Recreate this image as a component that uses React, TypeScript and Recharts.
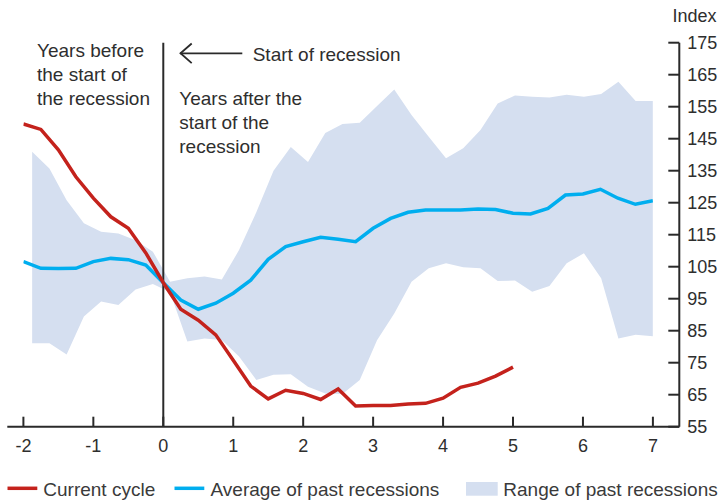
import React from 'react';
import { ComposedChart, Line, Area, XAxis, YAxis, ReferenceLine } from 'recharts';

// Quarterly grid (years relative to the start of the recession)
const quarterYears = [
  -2, -1.75, -1.5, -1.25, -1, -0.75, -0.5, -0.25, 0, 0.25, 0.5, 0.75, 1, 1.25, 1.5, 1.75, 2, 2.25, 2.5,
  2.75, 3, 3.25, 3.5, 3.75, 4, 4.25, 4.5, 4.75, 5, 5.25, 5.5, 5.75, 6, 6.25, 6.5, 6.75, 7,
];

// Current cycle: -2 .. 5
const currentCycle = [
  149.6, 147.9, 141.5, 133.1, 126.4, 120.6, 117.0, 109.3, 100.0, 91.7, 88.3, 83.7, 75.8, 67.7, 63.7,
  66.4, 65.4, 63.5, 66.8, 61.5, 61.6, 61.6, 62.1, 62.3, 63.9, 67.3, 68.6, 70.8, 73.6,
];

// Average of past recessions: -2 .. 7
const pastAverage = [
  106.6, 104.5, 104.4, 104.5, 106.6, 107.6, 107.2, 105.5, 100.0, 94.6, 91.7, 93.6, 96.7, 100.8, 107.3,
  111.3, 112.8, 114.2, 113.6, 112.8, 117.0, 120.1, 122.0, 122.7, 122.7, 122.7, 123.0, 122.9, 121.7,
  121.5, 123.2, 127.4, 127.7, 129.2, 126.4, 124.5, 125.6,
];

// Range of past recessions (drawn on its own x positions)
const rangeYears = [
  -1.875, -1.628, -1.382, -1.135, -0.889, -0.642, -0.396, -0.149, 0.097, 0.344, 0.59, 0.837, 1.083,
  1.33, 1.576, 1.823, 2.069, 2.316, 2.562, 2.809, 3.056, 3.302, 3.549, 3.795, 4.042, 4.288, 4.535,
  4.781, 5.028, 5.274, 5.521, 5.767, 6.014, 6.26, 6.507, 6.753, 7.0,
];
const rangeHigh = [
  140.9, 135.7, 125.8, 118.6, 115.9, 115.4, 113.3, 109.7, 100.3, 101.4, 101.9, 101.0, 110.2, 122.0,
  135.0, 142.4, 137.7, 146.8, 149.6, 150.0, 155.2, 160.4, 152.4, 145.6, 138.9, 142.0, 147.7, 156.0,
  158.5, 158.1, 157.9, 158.7, 158.1, 159.0, 162.8, 156.8, 156.8,
];
const rangeLow = [
  81.1, 81.1, 77.6, 89.4, 94.1, 93.0, 97.9, 99.6, 97.0, 81.6, 82.6, 82.1, 76.9, 69.6, 71.2, 71.4,
  67.5, 65.4, 65.2, 69.6, 82.0, 90.4, 100.3, 104.5, 106.1, 104.8, 104.5, 100.5, 100.7, 97.2, 99.0,
  106.1, 109.2, 101.4, 82.6, 83.7, 83.3,
];

const xTicks = [-2, -1, 0, 1, 2, 3, 4, 5, 6, 7];
const yTicks = [55, 65, 75, 85, 95, 105, 115, 125, 135, 145, 155, 165, 175];

const seriesNames = ['Current cycle', 'Average of past recessions', 'Range of past recessions'];

const RED = '#c4221c';
const BLUE = '#00aeef';
const RANGE = '#d5dff0';
const AXIS = '#2a2a2a';
const TEXT = '#2e2e2e';
const FONT = '"Liberation Sans", Arial, Helvetica, sans-serif';

const currentData = currentCycle.map((v, i) => ({ x: quarterYears[i], v }));
const averageData = pastAverage.map((v, i) => ({ x: quarterYears[i], v }));
const rangeData = rangeYears.map((x, i) => ({ x, r: [rangeLow[i], rangeHigh[i]] }));

const XTick = (props: any) => {
  const { x, y, payload } = props;
  return (
    <g>
      <line x1={x} x2={x} y1={y - 10} y2={y} stroke={AXIS} strokeWidth={2} />
      <text x={x} y={y + 25} textAnchor="middle" fontSize={18} fill={TEXT} fontFamily={FONT}>
        {String(payload.value)}
      </text>
    </g>
  );
};

const RightTick = (props: any) => {
  const { x, y, payload } = props;
  return (
    <g>
      <line x1={x - 11} x2={x} y1={y} y2={y} stroke={AXIS} strokeWidth={2} />
      <text x={x + 8} y={y + 6.5} textAnchor="start" fontSize={18} fill={TEXT} fontFamily={FONT}>
        {String(payload.value)}
      </text>
    </g>
  );
};

const LeftTick = (props: any) => {
  const { x, y } = props;
  return <line x1={x} x2={x + 12.5} y1={y} y2={y} stroke={AXIS} strokeWidth={2} />;
};

export default function App() {
  return (
    <div style={{ position: 'absolute', left: 0, top: 0, width: 721, height: 502, background: '#fff' }}>
      <style>{'body{margin:0;}'}</style>
      <ComposedChart
        width={721}
        height={502}
        margin={{ top: 42.7, right: 0, bottom: 45.3, left: 7.3 }}
      >
        <XAxis
          xAxisId="x"
          dataKey="x"
          type="number"
          domain={[-2, 7]}
          ticks={xTicks}
          padding={{ left: 16.1, right: 26.4 }}
          height={30}
          tickSize={0}
          tickMargin={0}
          tickLine={false}
          axisLine={{ stroke: AXIS, strokeWidth: 2 }}
          tick={<XTick />}
          interval={0}
          allowDataOverflow
        />
        <YAxis
          yAxisId="L"
          orientation="left"
          type="number"
          domain={[55, 175]}
          ticks={yTicks}
          width={0}
          tickSize={0}
          tickMargin={0}
          tickLine={false}
          axisLine={{ stroke: AXIS, strokeWidth: 2 }}
          tick={<LeftTick />}
          interval={0}
        />
        <YAxis
          yAxisId="R"
          orientation="right"
          type="number"
          domain={[55, 175]}
          ticks={yTicks}
          width={41.7}
          tickSize={0}
          tickMargin={0}
          tickLine={false}
          axisLine={{ stroke: AXIS, strokeWidth: 2 }}
          tick={<RightTick />}
          interval={0}
        />
        <Area
          xAxisId="x"
          yAxisId="R"
          data={rangeData}
          dataKey="r"
          name={seriesNames[2]}
          type="linear"
          stroke="none"
          fill={RANGE}
          fillOpacity={1}
          isAnimationActive={false}
          dot={false}
          activeDot={false}
        />
        <ReferenceLine xAxisId="x" yAxisId="R" x={0} stroke={AXIS} strokeWidth={2} />
        <Line
          xAxisId="x"
          yAxisId="R"
          data={averageData}
          dataKey="v"
          name={seriesNames[1]}
          type="linear"
          stroke={BLUE}
          strokeWidth={3.5}
          dot={false}
          activeDot={false}
          isAnimationActive={false}
        />
        <Line
          xAxisId="x"
          yAxisId="R"
          data={currentData}
          dataKey="v"
          name={seriesNames[0]}
          type="linear"
          stroke={RED}
          strokeWidth={3.5}
          dot={false}
          activeDot={false}
          isAnimationActive={false}
        />
      </ComposedChart>

      <svg
        width={721}
        height={502}
        style={{ position: 'absolute', left: 0, top: 0, pointerEvents: 'none' }}
        fontFamily={FONT}
      >
        <text x={672.5} y={22} fontSize={18} fill={TEXT}>Index</text>
        <g fontSize={19} fill={TEXT}>
          <text x={37} y={57.3}>Years before</text>
          <text x={37} y={81.3}>the start of</text>
          <text x={37} y={105.3}>the recession</text>
          <text x={179.3} y={105.3}>Years after the</text>
          <text x={179.3} y={129.3}>start of the</text>
          <text x={179.3} y={153.3}>recession</text>
          <text x={252.7} y={60.7}>Start of recession</text>
        </g>
        <line x1={180} x2={242.3} y1={53.3} y2={53.3} stroke={AXIS} strokeWidth={1.8} />
        <polyline points="191.7,43.5 180.5,53.3 191.7,63.1" fill="none" stroke={AXIS} strokeWidth={1.8} />
        {/* legend */}
        <line x1={7.5} x2={37.3} y1={488.3} y2={488.3} stroke={RED} strokeWidth={3.5} />
        <text x={43.3} y={496} fontSize={19} fill="#3a3a3a">{seriesNames[0]}</text>
        <line x1={174.5} x2={204.3} y1={488.3} y2={488.3} stroke={BLUE} strokeWidth={3.5} />
        <text x={210.5} y={496} fontSize={19} fill="#3a3a3a">{seriesNames[1]}</text>
        <rect x={466} y={482} width={31.7} height={13.7} fill={RANGE} />
        <text x={503.3} y={496} fontSize={19} fill="#3a3a3a">{seriesNames[2]}</text>
      </svg>
    </div>
  );
}
